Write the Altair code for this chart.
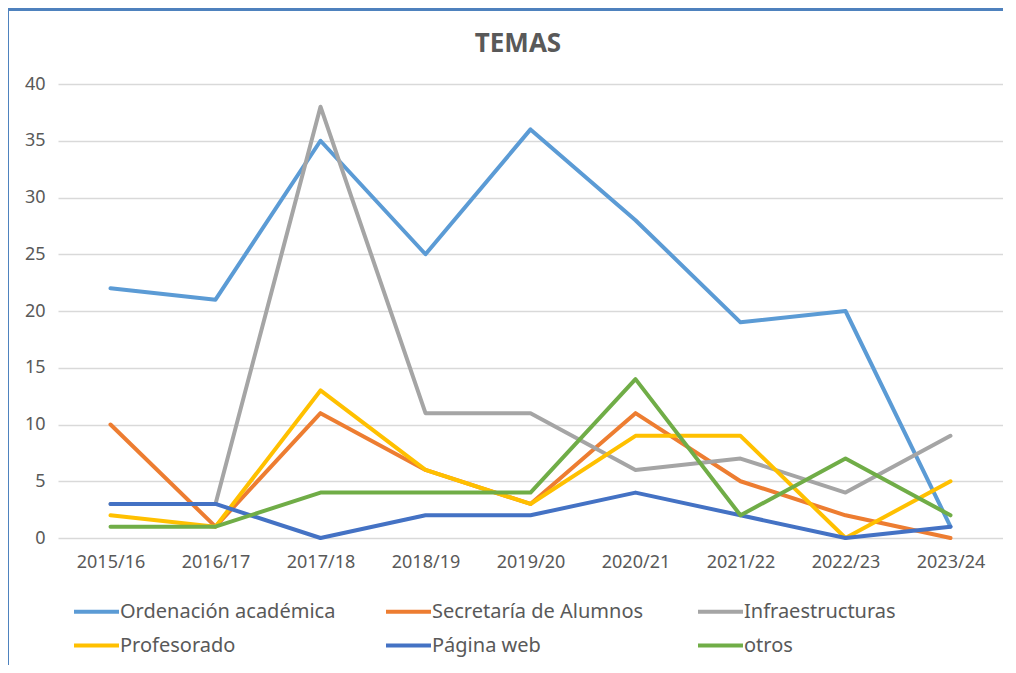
import altair as alt
import pandas as pd

years = ["2015/16", "2016/17", "2017/18", "2018/19", "2019/20", "2020/21", "2021/22", "2022/23", "2023/24"]
series_names = ["Ordenación académica", "Secretaría de Alumnos", "Infraestructuras",
                "Profesorado", "Página web", "otros"]
ordenacion = [22, 21, 35, 25, 36, 28, 19, 20, 1]
secretaria = [10, 1, 11, 6, 3, 11, 5, 2, 0]
infraestructuras = [3, 3, 38, 11, 11, 6, 7, 4, 9]
profesorado = [2, 1, 13, 6, 3, 9, 9, 0, 5]
pagina_web = [3, 3, 0, 2, 2, 4, 2, 0, 1]
otros = [1, 1, 4, 4, 4, 14, 2, 7, 2]
colors = ["#5B9BD5", "#ED7D31", "#A5A5A5", "#FFC000", "#4472C4", "#70AD47"]
title_text = ["TEMAS"]

values = [ordenacion, secretaria, infraestructuras, profesorado, pagina_web, otros]
rows = []
for i, (name, vals) in enumerate(zip(series_names, values)):
    for y, v in zip(years, vals):
        rows.append({"serie": name, "orden": i, "año": y, "valor": v})
df = pd.DataFrame(rows)

TXT = "#595959"
FONT = "Noto Sans"

lines = alt.Chart(df).mark_line(strokeWidth=4, strokeCap="round", strokeJoin="round").encode(
    x=alt.X("año:O", sort=years, scale=alt.Scale(type="point", padding=0.5),
            axis=alt.Axis(title=None, labelAngle=0, ticks=False, domain=False,
                          labelPadding=15, labelFontSize=18, labelColor=TXT, labelFont=FONT)),
    y=alt.Y("valor:Q", scale=alt.Scale(domain=[0, 40], nice=False),
            axis=alt.Axis(title=None, values=[0, 5, 10, 15, 20, 25, 30, 35, 40], ticks=False,
                          domain=False, labelPadding=13, labelFontSize=18, labelColor=TXT,
                          labelFont=FONT, gridColor="#D9D9D9", gridWidth=1.5)),
    color=alt.Color("serie:N", scale=alt.Scale(domain=series_names, range=colors),
                    legend=alt.Legend(title=None, orient="none", legendX=25, legendY=514,
                                      direction="horizontal", columns=3, gridAlign="all",
                                      symbolType="M-2,0H2", symbolSize=506, symbolStrokeWidth=4,
                                      labelFontSize=20, labelFont=FONT, labelColor=TXT,
                                      labelOffset=10, columnPadding=42, rowPadding=10,
                                      labelLimit=400)),
    order=alt.Order("orden:Q"),
    detail="orden:N",
)

title = alt.Chart(pd.DataFrame({"t": title_text})).mark_text(
    font=FONT, fontSize=26, fontWeight="bold", color=TXT, align="center", baseline="alphabetic"
).encode(text="t:N", x=alt.value(460), y=alt.value(-32))

border_top = alt.Chart(df).mark_rule(color="#4F81BD", strokeWidth=3).encode(
    x=alt.value(-51), x2=alt.value(1000), y=alt.value(-75))
border_left = alt.Chart(df).mark_rule(color="#4F81BD", strokeWidth=3).encode(
    x=alt.value(-51), y=alt.value(-75), y2=alt.value(700))

chart = alt.layer(lines, title, border_top, border_left).properties(
    width=945, height=454,
    autosize=alt.AutoSizeParams(type="none"),
    padding={"left": 50, "top": 76, "right": 0, "bottom": 127},
).configure_view(stroke=None)

chart.save("out.html", embed_options={"renderer": "svg", "actions": False})
